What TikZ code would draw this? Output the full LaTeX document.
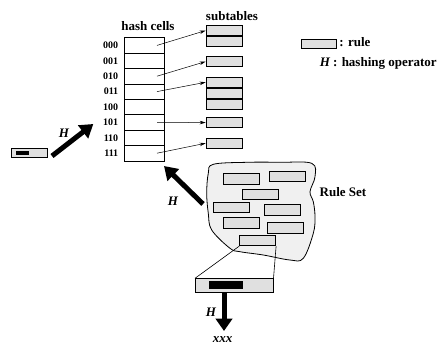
\documentclass[tikz,border=0pt]{standalone}
\usepackage{fontspec}
\setmainfont{Liberation Serif}
\usetikzlibrary{arrows.meta}

\begin{document}
\begin{tikzpicture}[x=1pt,y=-1pt,line width=0.8pt,inner sep=0pt,
	font=\bfseries\fontsize{13}{15}\selectfont,
	>={Stealth[length=6pt,width=3.5pt]},
	rule/.style={draw,fill=black!12,minimum width=36pt,minimum height=10.3pt,anchor=north west},
	keyfield/.style={fill=black,anchor=north west},
	cell/.style={draw,minimum width=40pt,minimum height=15.4pt},
	bits/.style={font=\bfseries\fontsize{10}{12}\selectfont,anchor=east},
	fat/.style={line width=5pt,-{Triangle[length=13pt,width=16pt]}}]
	\useasboundingbox (0,0) rectangle (446,345);
	% hash cells
	\node (hc) at (148,26) {hash cells};
	\foreach \b [count=\i] in {000,001,010,011,100,101,110,111}{
		\node[cell] (c\i) at (144,{30+15.4*\i}) {};
		\node[bits] (b\i) at ([xshift=-5pt]c\i.west) {\b};
	}
	% subtables
	\node (st) at (232,16) {subtables};
	\node[rule] (s1) at (205.7,25) {};
	\node[rule] (s1b) at (s1.south west) {};
	\node[rule] (s2) at (205.7,56) {};
	\node[rule] (s3) at (205.7,76.7) {};
	\node[rule] (s3b) at (s3.south west) {};
	\node[rule] (s3c) at (s3b.south west) {};
	\node[rule] (s4) at (205.7,117) {};
	\node[rule] (s5) at (205.7,137.7) {};
	\foreach \c/\s in {1/s1,3/s2,4/s3,6/s4,8/s5}
		\draw[->,line width=0.5pt] (c\c.center) ++(13,0) -- (\s.west);
	% legend
	\node[rule,minimum width=35.3pt,minimum height=8.7pt] (key) at (300.7,39) {};
	\node[anchor=base west] (keyt) at (339,46.7) {: rule};
	\node[anchor=base east] (hk) at (330.5,66.7) {\itshape H};
	\node[anchor=base west] (hkt) at (332.7,66.7) {: hashing operator};
	% single rule on the left
	\node[rule,minimum width=36.3pt,minimum height=8.4pt] (lr) at (11,148.3) {};
	\node[keyfield,minimum width=12.6pt,minimum height=3.3pt] (lrk) at (15.7,151) {};
	\coordinate (h1a) at (52,156);
	\coordinate (h1b) at (93.3,124);
	\draw[fat] (h1a) -- (h1b);
	\node (h1) at (64,133.3) {\itshape H};
	% rule set
	\draw[fill=black!6] plot[smooth cycle,tension=0.6] coordinates {
		(213.3,164.3) (246.7,162.3) (280,162.3) (311.7,163.3) (315,176.7)
		(310,191.7) (313.3,201.7) (315,216.7) (313.3,233.3) (303.3,258.3)
		(290,260) (263.3,255) (240,251.7) (230,248.3) (211.7,230)
		(208.3,213.3) (206.7,193.3) (208.3,173.3)};
	\node (rs) at (343,192) {Rule Set};
	\foreach \x/\y [count=\i] in {223.3/173.3,269.3/171,241.7/189,213.3/201.7,
		264.3/204.3,223.3/217.3,267.3/222.3,239.3/235}
		\node[rule] (r\i) at (\x,\y) {};
	\coordinate (h2a) at (203,204);
	\coordinate (h2b) at (164,166);
	\draw[fat] (h2a) -- (h2b);
	\node (h2) at (173,201) {\itshape H};
	% zoomed rule
	\node[rule,minimum width=77.7pt,minimum height=13.4pt] (big) at (195,278.3) {};
	\node[keyfield,minimum width=34pt,minimum height=8pt] (bigk) at (208.3,281) {};
	\draw[line width=0.6pt] (r8.south west) -- (big.north west)
		(r8.south east) -- (big.north east);
	\coordinate (h3a) at (224,292);
	\coordinate (h3b) at (224,331);
	\draw[line width=5pt,-{Triangle[length=12.5pt,width=16.5pt]}] (h3a) -- (h3b);
	\node (h3) at (211,312.3) {\itshape H};
	\node (xxx) at (222.7,339.3) {\itshape xxx};
\end{tikzpicture}
\end{document}
